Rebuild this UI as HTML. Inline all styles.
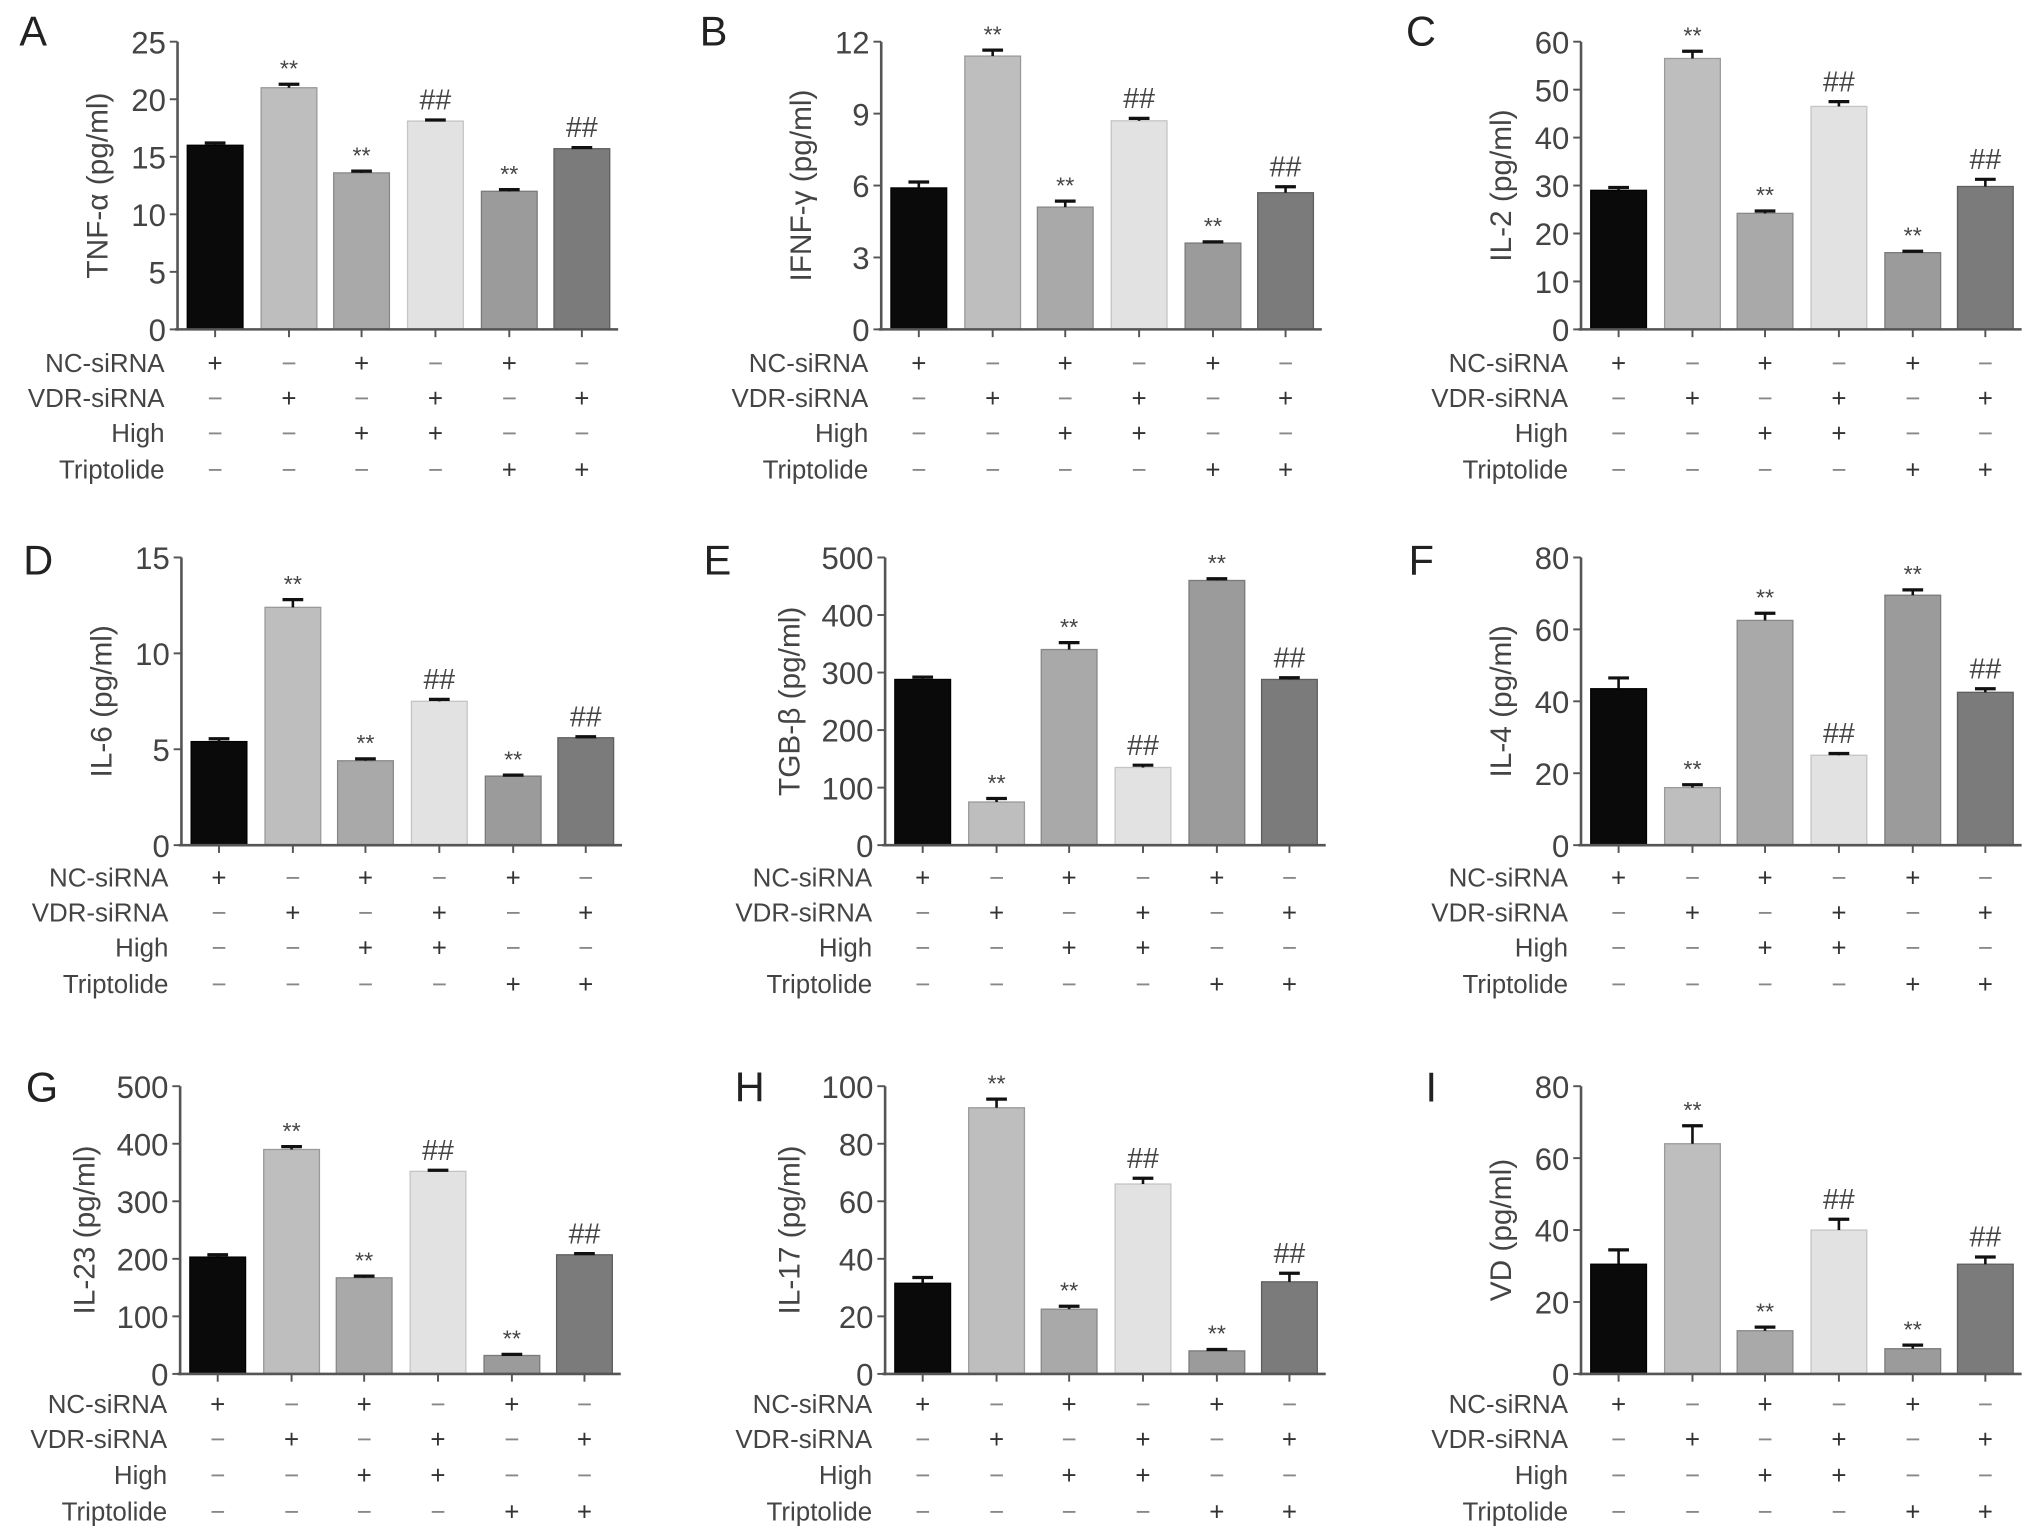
<!DOCTYPE html>
<html><head><meta charset="utf-8"><style>
html,body{margin:0;padding:0;background:#fff;}
svg{display:block;font-family:"Liberation Sans",sans-serif;}
</style></head><body>
<svg id="fig" width="2032" height="1540" viewBox="0 0 1568 1188" xmlns="http://www.w3.org/2000/svg"></svg>
<script>
const panelLetters=["A","B","C","D","E","F","G","H","I"];
const yTitles=["TNF-α (pg/ml)","IFNF-γ (pg/ml)","IL-2 (pg/ml)","IL-6 (pg/ml)","TGB-β (pg/ml)","IL-4 (pg/ml)","IL-23 (pg/ml)","IL-17 (pg/ml)","VD (pg/ml)"];
const yMax=[25,12,60,15,500,80,500,100,80];
const yStep=[5,3,10,5,100,20,100,20,20];
const valuesA=[16,21,13.6,18.1,12,15.7];
const valuesB=[5.9,11.4,5.1,8.7,3.6,5.7];
const valuesC=[29,56.5,24.2,46.5,16,29.8];
const valuesD=[5.4,12.4,4.4,7.5,3.6,5.6];
const valuesE=[288,75,340,135,460,288];
const valuesF=[43.5,16,62.5,25,69.5,42.5];
const valuesG=[203,390,167,352,32,207];
const valuesH=[31.5,92.5,22.5,66,8,32];
const valuesI=[30.5,64,12,40,7,30.5];
const errA=[0.2,0.3,0.15,0.1,0.15,0.1];
const errB=[0.25,0.25,0.25,0.1,0.05,0.25];
const errC=[0.6,1.5,0.5,1,0.3,1.5];
const errD=[0.15,0.4,0.1,0.1,0.05,0.05];
const errE=[4,6,12,4,3,3];
const errF=[3,0.8,2,0.5,1.5,1];
const errG=[4,5,3,2,2,2];
const errH=[2,3,1,2,0.5,3];
const errI=[4,5,1,3,1,2];
const annA=["","**","**","##","**","##"];
const annE=["","**","**","##","**","##"];
const rowLabels=["NC-siRNA","VDR-siRNA","High","Triptolide"];
const signs=[["+","−","+","−","+","−"],["−","+","−","+","−","+"],["−","−","+","+","−","−"],["−","−","−","−","+","+"]];
const allValues=[valuesA,valuesB,valuesC,valuesD,valuesE,valuesF,valuesG,valuesH,valuesI];
const allErr=[errA,errB,errC,errD,errE,errF,errG,errH,errI];
const colors=["#0a0a0a","#bebebe","#a9a9a9","#e2e2e2","#9b9b9b","#7b7b7b"];
const strokes=["#000","#9a9a9a","#888","#c4c4c4","#7a7a7a","#5e5e5e"];
const NS="http://www.w3.org/2000/svg";
const svg=document.getElementById("fig");
function el(tag,attrs,parent,text){const e=document.createElementNS(NS,tag);for(const k in attrs)e.setAttribute(k,attrs[k]);if(text!==undefined)e.textContent=text;(parent||svg).appendChild(e);return e;}
const axisX=[[137,680,1220],[140,683,1220],[139,683,1220]];
const tops=[32,430,838];
const H=222;
const letterPos=[[15,35],[540,45],[1085,35],[18,443],[543,443],[1087,443],[20,850],[567,850],[1100,850]];
const labRows=[[280,307,334,362],[677,704,731,759],[1083,1110,1138,1166]];
const offs=[29,86,142,199,256,312];
for(let p=0;p<9;p++){
  const r=Math.floor(p/3),c=p%3;
  const ax=axisX[r][c],top=tops[r],zero=top+H;
  const g=el("g",{});
  
  
  const y=v=>zero-v/yMax[p]*H;
  const xc=i=>ax+offs[i];
  const L=el("text",{x:letterPos[p][0],y:letterPos[p][1]+(c==1&&r==0?-10:0),"font-size":32,fill:"#222"},g,panelLetters[p]);
  
  
  const vals=allValues[p],errs=allErr[p];
  const ann=(p==4||p==5)?annE:annA;
  for(let i=0;i<6;i++){
    const b=el("rect",{x:xc(i)-21.5,y:y(vals[i]),width:43,height:zero-y(vals[i]),fill:colors[i],stroke:strokes[i],"stroke-width":1},g);
    
    
    const et=y(vals[i]+errs[i]);
    const e1=el("line",{x1:xc(i),x2:xc(i),y1:y(vals[i]),y2:et,stroke:"#111","stroke-width":2},g);
    
    
    const e2=el("line",{x1:xc(i)-8,x2:xc(i)+8,y1:et,y2:et,stroke:"#111","stroke-width":2.5},g);
    
    
    if(ann[i]){
      const a=el("text",{x:xc(i),y:et-(ann[i]=="**"?6:8),"font-size":ann[i]=="**"?18:22,"text-anchor":"middle",fill:"#444"},g,ann[i]);
      
      
    }
  }
  const ya=el("line",{x1:ax,x2:ax,y1:top,y2:zero+1,stroke:"#555","stroke-width":2},g);
  
  
  const xa=el("line",{x1:ax-2,x2:ax+340,y1:zero,y2:zero,stroke:"#555","stroke-width":2},g);
  
  
  for(let i=0;i<6;i++){const t=el("line",{x1:xc(i),x2:xc(i),y1:zero,y2:zero+6,stroke:"#555","stroke-width":1.5},g);
    
    }
  for(let v=0;v<=yMax[p]+1e-9;v+=yStep[p]){
    const t=el("line",{x1:ax-6,x2:ax,y1:y(v),y2:y(v),stroke:"#555","stroke-width":1.5},g);
    
    
    const tl=el("text",{x:ax-9,y:y(v)+9,"font-size":24,"text-anchor":"end",fill:"#444"},g,String(v));
    
    
  }
  const tx=ax-(yMax[p]>=100?66:54),ty=top+H/2;
  const yt=el("text",{x:tx,y:ty,"font-size":23,"text-anchor":"middle",fill:"#444",transform:`rotate(-90 ${tx} ${ty})`},g,yTitles[p]);
  
  
  for(let k=0;k<4;k++){
    const ry=labRows[r][k];
    const rl=el("text",{x:ax-10,y:ry+7,"font-size":20,"text-anchor":"end",fill:"#444"},g,rowLabels[k]);
    
    
    for(let i=0;i<6;i++){
      const s=el("text",{x:xc(i),y:ry+7,"font-size":20,"text-anchor":"middle",fill:signs[k][i]=="+"?"#333":"#888"},g,signs[k][i]);
      
      
    }
  }
}
</script>
</body></html>
